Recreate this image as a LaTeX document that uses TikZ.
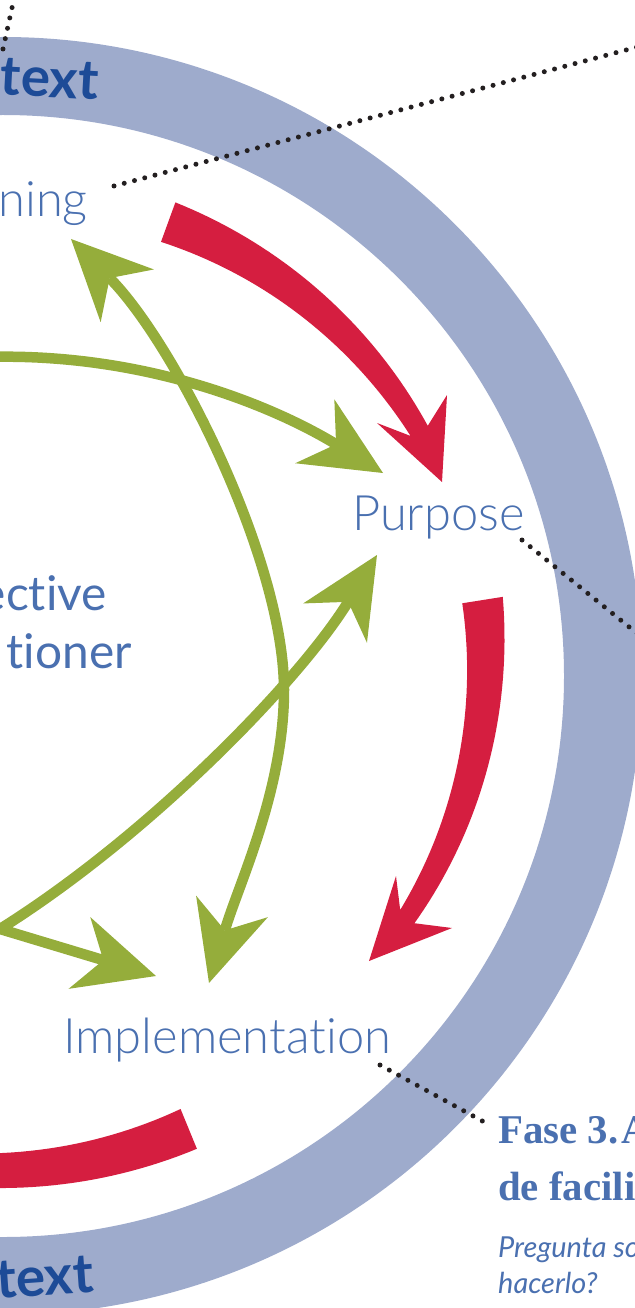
\documentclass[tikz,border=0pt]{standalone}
\usepackage{fontspec}
\setmainfont{Lato}[Ligatures=NoCommon]
\newfontfamily\lightfont{Lato Light}[Ligatures=NoCommon]
\newfontfamily\titlefont{Liberation Serif}
\usepackage{tikz}
\usetikzlibrary{arrows.meta}
\definecolor{ringblue}{HTML}{9EABCC}
\definecolor{ctxblue}{HTML}{1D4B97}
\definecolor{labelblue}{HTML}{4A70B0}
\definecolor{arrowred}{HTML}{D51E40}
\definecolor{arrowgreen}{HTML}{95AD3B}
\definecolor{dotblack}{HTML}{231F20}
\tikzset{declare function={taper(\s,\sa,\sb,\ra,\rb)=\ra+(\rb-\ra)*(\s-\sa)/(\sb-\sa);},
	ring/.style={draw=ringblue, line width=78bp},
	context/.style={text=ctxblue, inner sep=0pt, font=\bfseries\fontsize{55}{60}\selectfont},
	stage/.style={text=labelblue, inner sep=0pt, font=\lightfont\fontsize{49}{56}\selectfont},
	centre/.style={text=labelblue, inner sep=0pt, font=\fontsize{48}{56}\selectfont},
	phase/.style={text=labelblue, inner sep=0pt, font=\titlefont\bfseries\fontsize{41}{48}\selectfont},
	question/.style={text=labelblue, inner sep=0pt, font=\itshape\fontsize{29}{34}\selectfont},
	leader/.style={draw=dotblack, line width=5bp, line cap=round, dash pattern=on 0bp off 10.6bp},
	redarrow/.style={fill=arrowred},
	greenarrow/.style={draw=arrowgreen, line width=10.5bp}}

\begin{document}
\begin{tikzpicture}[x=1bp, y=-1bp]
	\useasboundingbox (0,0) rectangle (635,1308);
	\clip (0,0) rectangle (635,1308);
	\coordinate (ctr) at (3,676);
	\draw[ring] (ctr) circle[radius=600];
	\node[context, anchor=base east, rotate=-3] (ctxtop) at (98,100) {text};
	\node[context, anchor=base east, rotate=4] (ctxbot) at (95,1292) {text};

	\begin{scope}[every node/.style={stage}]
		\node[anchor=base east] (plan) at (88,217) {ning};
		\node[anchor=base west] (purp) at (352,530) {Purpose};
		\node[anchor=base west] (impl) at (63,1053) {Implementation};
	\end{scope}
	\node[centre, anchor=base east] (refl) at (107,610) {ective};
	\node[centre, anchor=base east] (prac) at (132,668) {tioner};

	\node[phase, anchor=base west] (fase) at (498,1143) {Fase 3.\hspace{3bp}A};
	\node[phase, anchor=base west] (facil) at (498,1200) {de facili};
	\node[question, anchor=base west] (preg) at (498,1257) {Pregunta so};
	\node[question, anchor=base west] (hacer) at (498,1293) {hacerlo?};

	% red cycle
	\fill[redarrow] plot[domain=-70:-30.5, samples=40] ({3+taper(\x,-70,-30.5,504,493)*cos(\x)}, {676+taper(\x,-70,-30.5,504,493)*sin(\x)})
		-- (447,395) -- (442,482) -- (377,423)
		-- plot[domain=-30.5:-70, samples=40] ({3+taper(\x,-70,-30.5,462,473)*cos(\x)}, {676+taper(\x,-70,-30.5,462,473)*sin(\x)}) -- cycle;
	\fill[redarrow] plot[domain=-9:31, samples=40] ({3+taper(\x,-9,31,506,480)*cos(\x)}, {676+taper(\x,-9,31,506,480)*sin(\x)})
		-- (452,928) -- (369,961) -- (396,876)
		-- plot[domain=30.5:-9, samples=40] ({3+taper(\x,-9,30.5,465,461)*cos(\x)}, {676+taper(\x,-9,30.5,465,461)*sin(\x)}) -- cycle;
	\fill[redarrow] plot[domain=67.7:100, samples=30] ({3+taper(\x,67.7,100,511,512.5)*cos(\x)}, {676+taper(\x,67.7,100,511,512.5)*sin(\x)})
		-- plot[domain=100:67.7, samples=30] ({3+taper(\x,67.7,100,468,481)*cos(\x)}, {676+taper(\x,67.7,100,468,481)*sin(\x)}) -- cycle;

	% green links
	\coordinate (west) at (-15,357);
	\coordinate (purp-a) at (383,473);
	\coordinate (purp-b) at (377,555);
	\coordinate (plan-a) at (71,239);
	\coordinate (impl-a) at (156,976);
	\coordinate (impl-b) at (209,983);
	\coordinate (split) at (0,929);
	\coordinate (bend) at (284,690);
	\begin{scope}[>={Stealth[length=80bp, width=75bp, inset=25bp, line width=0pt]}]
		\draw[greenarrow, ->] (west) .. controls (150,352) and (280,410) .. (purp-a);
		\draw[greenarrow, <->] (plan-a) .. controls (175,344) and (284,560) .. (bend)
			.. controls (284,790) and (239,883) .. (impl-b);
		\draw[greenarrow, <->, line join=miter] (purp-b) .. controls (300,680) and (150,835) .. (split) -- (impl-a);
	\end{scope}

	% leaders
	\coordinate (lead-ctx) at (17,-15);
	\coordinate (lead-plan) at (660,41);
	\coordinate (lead-purp) at (660,652);
	\coordinate (lead-impl) at (486,1123);
	\draw[leader] (3,49) -- (lead-ctx);
	\draw[leader] (114,186) -- (lead-plan);
	\draw[leader] (522,540) -- (lead-purp);
	\draw[leader] (380,1065) -- (lead-impl);
\end{tikzpicture}
\end{document}
